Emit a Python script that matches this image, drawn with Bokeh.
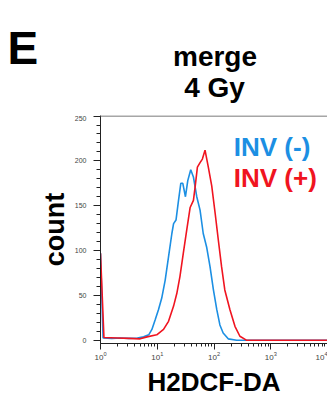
import math
from bokeh.plotting import figure
from bokeh.layouts import column
from bokeh.models import Range1d, Label, SingleIntervalTicker, LogTicker, Span
from bokeh.embed import file_html
from bokeh.resources import INLINE

# ---- data (fluorescence intensity vs. count) ----
blue_x = [1.0, 1.11, 1.58, 2.24, 3.16, 4.47, 5.75, 7.08, 8.05, 9.23, 10.5, 12.0, 13.8,
          15.8, 18.1, 19.4, 21.4, 23.7, 26.0, 28.2, 31.4, 34.5, 38.9, 43.4, 49.7,
          56.8, 64.6, 74.1, 85.1, 97.7, 112, 127, 145, 178, 251, 10000]
blue_y = [97, 2.6, 2, 2.5, 2, 2.5, 3.7, 6, 12, 23, 34, 47, 67,
          93, 119, 130, 134, 156, 175, 175, 160, 178, 190, 182, 160,
          145, 119, 104, 82, 56, 34, 17, 8, 1.5, 0, 0]

red_x = [1.0, 1.15, 2.0, 3.16, 5.0, 6.6, 9.8, 12.9, 15.8, 19.4, 22.1, 25.1, 28.8,
         33.1, 38.0, 43.4, 46.5, 51.0, 56.8, 62.4, 69.5, 79.4, 91.2, 105, 119,
         136, 155, 191, 234, 286, 372, 10000]
red_y = [97, 3, 2.5, 2, 1.5, 3.7, 6, 12, 21, 38, 52, 71, 97,
         123, 148, 156, 171, 193, 198, 202, 212, 193, 172, 141, 112,
         82, 56, 34, 15.5, 4.4, 0, 0]

series_labels = ["INV (-)", "INV (+)"]
title_lines = ["merge", "4 Gy"]
panel_letter = "E"
x_title = "H2DCF-DA"
y_title = "count"
y_top = 250

BLUE = "#1C8FE3"
RED = "#F01420"
FONT = "Liberation Sans"
W = 327

# ---- header strip (panel letter and title) ----
head = figure(width=W, height=115, x_range=Range1d(0, W), y_range=Range1d(115, 0),
              output_backend="svg", toolbar_location=None,
              min_border=0, min_border_left=0, min_border_right=0,
              min_border_top=0, min_border_bottom=0)
head.frame_align = False
head.axis.visible = False
head.grid.visible = False
head.outline_line_color = None


def hlab(text, x, y, size, align):
    head.add_layout(Label(x=x, y=y, text=text, text_font=FONT, text_font_style="bold",
                          text_font_size=size, text_color="black", text_align=align,
                          text_baseline="alphabetic"))


hlab(panel_letter, 7, 47, "46px", "left")
hlab(title_lines[0], 214.5, 56, "28px", "center")
hlab(title_lines[1], 214, 86.7, "28px", "center")

# ---- main histogram ----
p = figure(width=W, height=284, x_axis_type="log",
           x_range=Range1d(1, 10000), y_range=Range1d(-3.7, y_top + 0.6),
           output_backend="svg", toolbar_location=None,
           min_border_left=100, min_border_right=0, min_border_top=0,
           min_border_bottom=55)
p.frame_align = False
p.grid.visible = False
p.outline_line_color = None

p.line(blue_x, blue_y, line_color=BLUE, line_width=1.6)
p.line(red_x, red_y, line_color=RED, line_width=1.6)

# top frame line only
p.add_layout(Span(location=y_top, dimension="width", line_color="#888888",
                  line_width=1.5))

for ax in (p.xaxis[0], p.yaxis[0]):
    ax.axis_line_color = "#222222"
    ax.major_tick_line_color = "#222222"
    ax.minor_tick_line_color = "#222222"
    ax.major_tick_in = 0
    ax.minor_tick_in = 0
    ax.major_label_text_font = FONT
    ax.major_label_text_color = "#444444"
    ax.axis_label_text_font = FONT
    ax.axis_label_text_font_style = "bold"
    ax.axis_label_text_color = "black"

p.xaxis[0].ticker = LogTicker(num_minor_ticks=10)
p.xaxis[0].major_tick_out = 6
p.xaxis[0].minor_tick_out = 3
p.xaxis[0].major_label_text_font_size = "8px"
p.xaxis[0].major_label_standoff = 2
p.xaxis[0].axis_label = x_title
p.xaxis[0].axis_label_text_font_size = "26px"
p.xaxis[0].axis_label_standoff = 4

p.yaxis[0].ticker = SingleIntervalTicker(interval=50, num_minor_ticks=5)
p.yaxis[0].major_tick_out = 7
p.yaxis[0].minor_tick_out = 4
p.yaxis[0].major_label_text_font_size = "7px"
p.yaxis[0].major_label_standoff = 7
p.yaxis[0].axis_label = y_title
p.yaxis[0].axis_label_text_font_size = "27px"
p.yaxis[0].axis_label_standoff = 2


def lab(text, sx, sy, size, color):
    p.add_layout(Label(x=sx, y=sy, x_units="screen", y_units="screen", text=text,
                       text_font=FONT, text_font_style="bold", text_font_size=size,
                       text_color=color, text_align="left", text_baseline="alphabetic"))


lab(series_labels[0], 133.3, 196.3, "26px", BLUE)
lab(series_labels[1], 133.3, 165.7, "26px", RED)

layout = column(head, p, spacing=0)
open("out.html", "w").write(file_html(layout, INLINE))
